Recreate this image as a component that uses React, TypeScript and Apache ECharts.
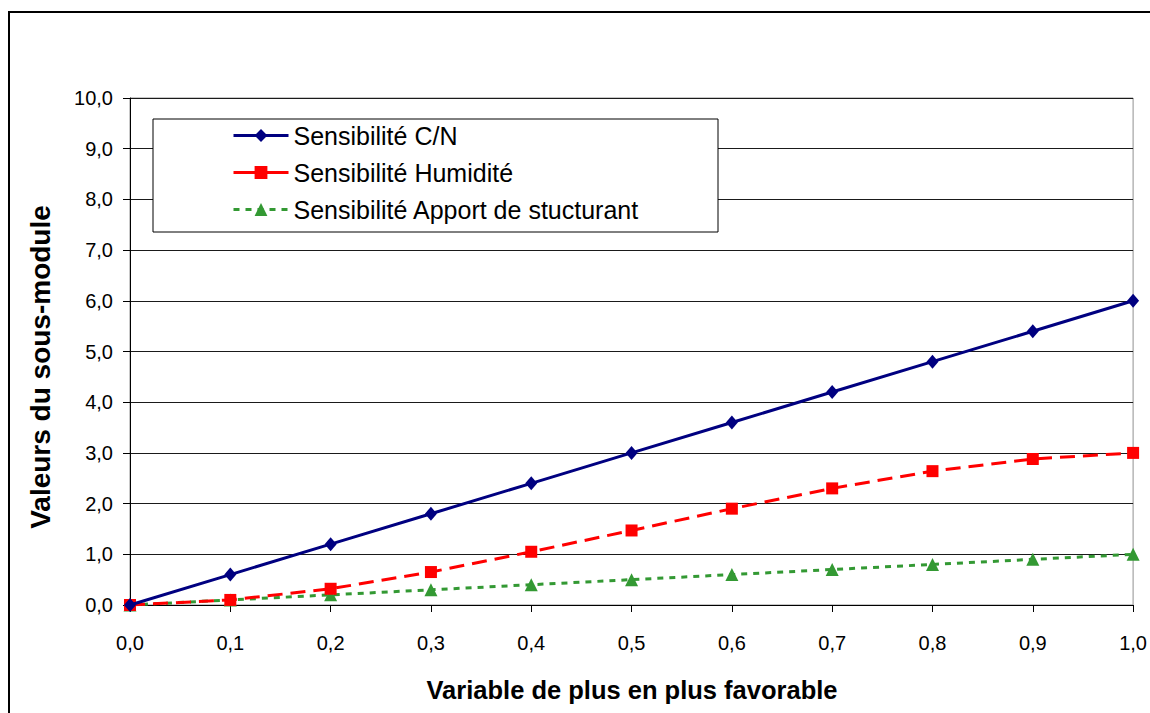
import React, { useEffect, useRef } from "react";
import * as echarts from "echarts";

const xValues = [0, 0.1, 0.2, 0.3, 0.4, 0.5, 0.6, 0.7, 0.8, 0.9, 1.0];
const seriesCN = [0, 0.6, 1.2, 1.8, 2.4, 3.0, 3.6, 4.2, 4.8, 5.4, 6.0];
const seriesHumidite = [0, 0.1, 0.32, 0.65, 1.05, 1.47, 1.9, 2.3, 2.64, 2.88, 3.0];
const seriesApport = [0, 0.1, 0.2, 0.3, 0.4, 0.5, 0.6, 0.7, 0.8, 0.9, 1.0];
const seriesNames = ["Sensibilité C/N", "Sensibilité Humidité", "Sensibilité Apport de stucturant"];
const xTitle = "Variable de plus en plus favorable";
const yTitle = "Valeurs du sous-module";

const FONT = "'Liberation Sans', Arial, sans-serif";
const fmt = (v: number) => v.toFixed(1).replace(".", ",");

export default function App() {
  const ref = useRef<HTMLDivElement>(null);
  useEffect(() => {
    if (!ref.current) return;
    const chart = echarts.init(ref.current, undefined, { renderer: "svg" });
    const pairs = (ys: number[]) => xValues.map((x, i) => [x, ys[i]]);
    chart.setOption({
      animation: false,
      backgroundColor: "#ffffff",
      textStyle: { fontFamily: FONT },
      grid: {
        left: 130,
        right: 16,
        top: 98,
        bottom: 108,
        show: true,
        borderColor: "#909090",
        borderWidth: 1,
      },
      xAxis: {
        type: "value",
        min: 0,
        max: 1,
        interval: 0.1,
        axisLine: { show: true, onZero: false, lineStyle: { color: "#000", width: 1 } },
        axisTick: { show: true, length: 7, inside: false, lineStyle: { color: "#000" } },
        axisLabel: { color: "#000", fontSize: 20, fontFamily: FONT, margin: 28, formatter: fmt },
        splitLine: { show: false },
      },
      yAxis: {
        type: "value",
        min: 0,
        max: 10,
        interval: 1,
        axisLine: { show: true, lineStyle: { color: "#000", width: 1 } },
        axisTick: { show: true, length: 7, inside: false, lineStyle: { color: "#000" } },
        axisLabel: { color: "#000", fontSize: 20, fontFamily: FONT, margin: 17, formatter: fmt },
        splitLine: { show: true, lineStyle: { color: "#1a1a1a", width: 1 } },
      },
      legend: {
        orient: "vertical",
        left: 227,
        top: 118,
        itemWidth: 55,
        itemHeight: 16,
        itemGap: 12,
        z: 10,
        lineStyle: { width: 3 },
        textStyle: { color: "#000", fontSize: 25, fontFamily: FONT },
        data: [
          { name: seriesNames[0] },
          { name: seriesNames[1], lineStyle: { type: "solid", width: 3 } },
          { name: seriesNames[2] },
        ],
      },
      graphic: [
        {
          type: "rect",
          z: 5,
          shape: { x: 153, y: 119, width: 565, height: 113 },
          style: { fill: "#fff", stroke: "#000", lineWidth: 1 },
        },
        {
          type: "rect",
          z: 0,
          silent: true,
          shape: { x: 9, y: 12, width: 1160, height: 720 },
          style: { fill: "none", stroke: "#000", lineWidth: 2 },
        },
        {
          type: "text",
          x: 632,
          y: 690,
          style: {
            text: xTitle,
            font: `bold 25.5px ${FONT}`,
            fill: "#000",
            align: "center",
            verticalAlign: "middle",
          },
        },
        {
          type: "text",
          x: 40,
          y: 367,
          rotation: Math.PI / 2,
          style: {
            text: yTitle,
            font: `bold 28px ${FONT}`,
            fill: "#000",
            align: "center",
            verticalAlign: "middle",
          },
        },
      ],
      series: [
        {
          name: seriesNames[0],
          type: "line",
          data: pairs(seriesCN),
          symbol: "diamond",
          symbolSize: [12, 14],
          color: "#000080",
          lineStyle: { color: "#000080", width: 3, type: "solid" },
          itemStyle: { color: "#000080" },
          z: 4,
        },
        {
          name: seriesNames[1],
          type: "line",
          data: pairs(seriesHumidite),
          symbol: "rect",
          symbolSize: 12,
          color: "#ff0000",
          lineStyle: { color: "#ff0000", width: 3, type: [15, 8] },
          itemStyle: { color: "#ff0000" },
          z: 3,
        },
        {
          name: seriesNames[2],
          type: "line",
          data: pairs(seriesApport),
          symbol: "triangle",
          symbolSize: 13,
          color: "#339933",
          lineStyle: { color: "#339933", width: 3, type: [6, 6] },
          itemStyle: { color: "#339933" },
          z: 2,
        },
      ],
    });
    return () => chart.dispose();
  }, []);
  return (
    <div
      ref={ref}
      style={{ position: "absolute", left: 0, top: 0, width: 1150, height: 713 }}
    />
  );
}
